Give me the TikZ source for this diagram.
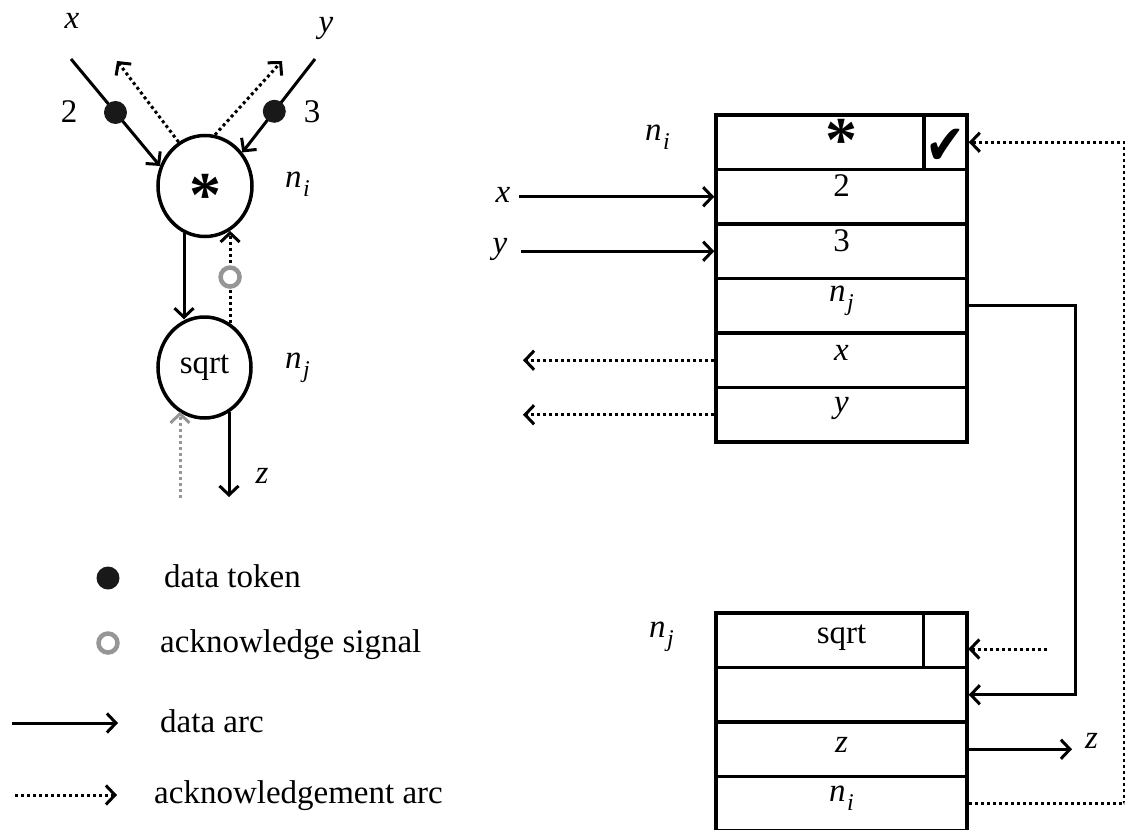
\documentclass[tikz,border=0pt]{standalone}
\usepackage{fontspec}
\setmainfont{Liberation Serif}
\newfontfamily\symfont{DejaVu Sans}
\usetikzlibrary{arrows.meta,shapes.geometric}
\definecolor{sigpale}{RGB}{150,150,150}
% italic n with a lowered italic index
\newcommand\nsub[1]{\textit{n}\kern1.5pt\raisebox{-9pt}{\fontsize{24}{24}\selectfont\textit{#1}}}
\newcommand\bigast{\fontsize{64}{64}\selectfont\bfseries *}

\begin{document}
\begin{tikzpicture}[x=1pt,y=-1pt,
  >={Straight Barb[length=9pt,width=19pt,line width=3pt]},
  every node/.style={font=\fontsize{33}{40}\selectfont, inner sep=0pt},
  data/.style={line width=3pt, ->},
  ack/.style={line width=3pt, dash pattern=on 3pt off 3pt, ->},
  paleack/.style={ack, draw=sigpale},
  opnode/.style={draw, ellipse, line width=3.5pt, minimum width=94pt, minimum height=101pt},
  token/.style={circle, fill=black!90, minimum size=23pt},
  signal/.style={circle, solid, draw=sigpale, fill=white, line width=4.5pt, minimum size=19pt},
  cell/.style={draw, rectangle, line width=3.5pt, minimum width=251pt, minimum height=54.5pt,
               text height=10pt, text depth=10pt},
  flag/.style={draw, rectangle, line width=3.5pt, minimum width=43pt, minimum height=54.5pt},
]
\useasboundingbox (0,0) rectangle (1125,830);

% ---------- dataflow graph ----------
\node[opnode] (mul) at (205,186) {\raisebox{-30pt}[0pt][0pt]{\bigast}};
\node[opnode, minimum width=93pt] (sq) at (204.5,367.5) {sqrt};

\node[anchor=base] (xtop) at (72,28) {\textit{x}};
\node[anchor=base] (ytop) at (326,32) {\textit{y}};
\node[anchor=base] (two) at (69,122) {2};
\node[anchor=base] (three) at (312,122) {3};
\node[anchor=base west] (nilab) at (285,187) {\nsub{i}};
\node[anchor=base west] (njlab) at (285,368) {\nsub{j}};
\node[anchor=base] (zlab) at (262,483) {\textit{z}};

\coordinate (xin) at (71,59);
\coordinate (yin) at (315,59);
\coordinate (xack) at (117,61);
\coordinate (yack) at (282,61);
\coordinate (sqin) at (180,498);
\coordinate (zout) at (229,497);

\draw[data] (xin) -- node[token, pos=0.5] (tokx) {} (mul.156);
\draw[data] (yin) -- node[token, pos=0.56] (toky) {} (mul.42);
\draw[ack] (mul.121) -- (xack);
\draw[ack] (mul.79) -- (yack);
\draw[data] (mul.246) -- (sq.111 -| mul.246);
\draw[ack] (sq.60) -- node[signal, pos=0.5] (sig) {} (sq.60 |- mul.-119);
\draw[paleack] (sqin) -- (sqin |- sq.-120);
\draw[data] (zout |- sq.-60) -- (zout);

% ---------- legend ----------
\node[token] (ltok) at (108,578) {};
\node[signal] (lsig) at (108,643) {};
\coordinate (ldata0) at (12,723);
\coordinate (ldata1) at (118,723);
\coordinate (lack0) at (15,795);
\coordinate (lack1) at (117,795);
\draw[data] (ldata0) -- (ldata1);
\draw[ack] (lack0) -- (lack1);
\node[anchor=base west] (ttok) at (164,587) {data token};
\node[anchor=base west] (tsig) at (160,652) {acknowledge signal};
\node[anchor=base west] (tdata) at (160,732) {data arc};
\node[anchor=base west] (tack) at (154,803) {acknowledgement arc};

% ---------- activity template n_i ----------
\node[cell] (aop) at (841.5,142.25) {\raisebox{-19pt}[0pt][0pt]{\bigast}};
\node[flag] (achk) at (945.5,142.25) {\raisebox{-22pt}[0pt][0pt]{\scalebox{0.85}[1]{\symfont\fontsize{56}{56}\selectfont ✔}}};
\node[cell] (aa) at (841.5,196.75) {2};
\node[cell] (ab) at (841.5,251.25) {3};
\node[cell] (adst) at (841.5,305.75) {\raisebox{4pt}{\nsub{j}}};
\node[cell] (ax) at (841.5,360.25) {\textit{x}};
\node[cell] (ay) at (841.5,414.75) {\raisebox{2pt}{\textit{y}}};

\node[anchor=base west] (tni) at (645,140) {\nsub{i}};
\node[anchor=base] (tx) at (503,202) {\textit{x}};
\node[anchor=base] (ty) at (500,253) {\textit{y}};
\coordinate (xsrc) at (519,196.75);
\coordinate (ysrc) at (521,251.25);
\coordinate (xret) at (523,360.25);
\coordinate (yret) at (523,414.75);
\draw[data] (xsrc) -- (aa.west);
\draw[data] (ysrc) -- (ab.west);
\draw[ack] (ax.west) -- (xret);
\draw[ack] (ay.west) -- (yret);

% ---------- activity template n_j ----------
\node[cell] (bop) at (841.5,640.25) {\raisebox{-3pt}{sqrt}};
\node[flag] (bchk) at (945,640.25) {};
\node[cell] (bin) at (841.5,694.75) {};
\node[cell] (bz) at (841.5,749.25) {\raisebox{-3pt}{\textit{z}}};
\node[cell] (bdst) at (841.5,803.75) {\raisebox{2pt}{\nsub{i}}};

\node[anchor=base west] (tnj) at (649,637) {\nsub{j}};
\node[anchor=base west] (tz) at (1085,748) {\textit{z}};
\coordinate (bsig) at (1047,649);
\coordinate (zend) at (1072,749.25);
\draw[ack] (bsig) -- (bsig -| bchk.east);
\draw[data] (bz.east) -- (zend);

% ---------- links between templates ----------
\draw[data] (adst.east) -- ++(107,0) |- (bin.east);
\draw[ack] (bdst.east) -- ++(156,0) |- (achk.east);
\end{tikzpicture}
\end{document}
